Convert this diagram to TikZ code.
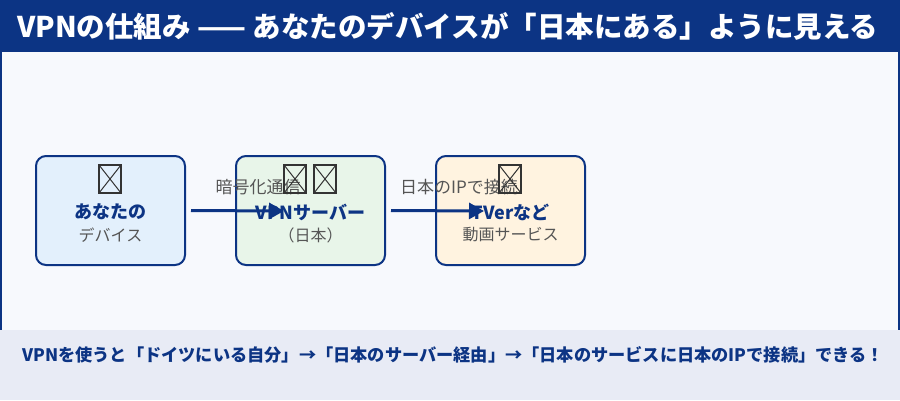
\documentclass[tikz,border=0pt]{standalone}
\usepackage{fontspec}
\setmainfont{Noto Sans CJK JP}
\usepackage{tikz}
\usetikzlibrary{arrows.meta,positioning,calc}

\definecolor{navy}{RGB}{12,52,132}
\definecolor{panelbg}{RGB}{247,249,253}
\definecolor{footbg}{RGB}{232,235,245}
\definecolor{devbg}{RGB}{227,240,252}
\definecolor{srvbg}{RGB}{232,245,233}
\definecolor{svcbg}{RGB}{255,243,224}
\definecolor{txtgray}{RGB}{85,85,85}

\begin{document}
\begin{tikzpicture}[x=1pt,y=-1pt,
    box/.style={draw=navy, line width=2pt, rounded corners=10pt,
        minimum width=149pt, minimum height=109pt, inner sep=0pt},
    tofu/.style={draw=black!80, line width=1.3pt, minimum width=22pt,
        minimum height=28pt, inner sep=0pt,
        path picture={\draw[black!80, line width=1pt]
            (path picture bounding box.north west) -- (path picture bounding box.south east)
            (path picture bounding box.south west) -- (path picture bounding box.north east);}},
    ttl/.style={font=\fontsize{18}{20}\selectfont\bfseries, text=navy, inner sep=0pt},
    sub/.style={font=\fontsize{16}{18}\selectfont, text=txtgray, inner sep=0pt},
    lbl/.style={font=\fontsize{17}{19}\selectfont, text=txtgray, inner sep=0pt},
    flow/.style={draw=navy, line width=3pt, -{Triangle[length=15pt,width=16pt]}}]
    \useasboundingbox (0,0) rectangle (900,400);

    % Background
    \fill[footbg] (0,0) rectangle (900,400);
    \fill[panelbg] (0,52) rectangle (900,330);
    \draw[navy, line width=2pt] (1,52) -- (1,330) (899,52) -- (899,330);
    \fill[navy] (0,0) rectangle (900,52);
    \node[anchor=west, text=white, inner sep=0pt,
        font=\fontsize{28.5}{30}\selectfont\bfseries] (title) at (17,26)
        {VPNの仕組み —— あなたのデバイスが「日本にある」ように見える};

    % Boxes
    \node[box, fill=devbg] (dev) at (110.5,210.5) {};
    \node[box, fill=srvbg] (srv) at (310.5,210.5) {};
    \node[box, fill=svcbg] (svc) at (510.5,210.5) {};

    % Box texts
    \node[ttl] (devttl) at (110.5,212) {あなたの};
    \node[sub] (devsub) at (110.5,235) {デバイス};
    \node[ttl] (srvttl) at (310.5,212) {VPNサーバー};
    \node[sub] (srvsub) at (310.5,235) {（日本）};
    \node[ttl] (svcttl) at (510.5,212) {TVerなど};
    \node[sub] (svcsub) at (510.5,235) {動画サービス};

    % Edge labels
    \node[lbl] (enc) at (258,187) {暗号化通信};
    \node[lbl] (jpip) at (459,187) {日本のIPで接続};

    % Glyph boxes
    \node[tofu] (devicon) at (110,179) {};
    \node[tofu] (srvicon1) at (295,179) {};
    \node[tofu] (srvicon2) at (325,179) {};
    \node[tofu] (svcicon) at (510,179) {};

    % Connectors
    \coordinate (srvin) at (284,211);
    \coordinate (svcin) at (484,211);
    \draw[flow] ($(dev.east)+(5,0)$) -- (srvin);
    \draw[flow] ($(srv.east)+(5,0)$) -- (svcin);

    % Footer
    \node[anchor=west, text=navy, inner sep=0pt,
        font=\fontsize{17.2}{19}\selectfont\bfseries] (note) at (22,355)
        {VPNを使うと「ドイツにいる自分」→「日本のサーバー経由」→「日本のサービスに日本のIPで接続」できる！};
\end{tikzpicture}
\end{document}
